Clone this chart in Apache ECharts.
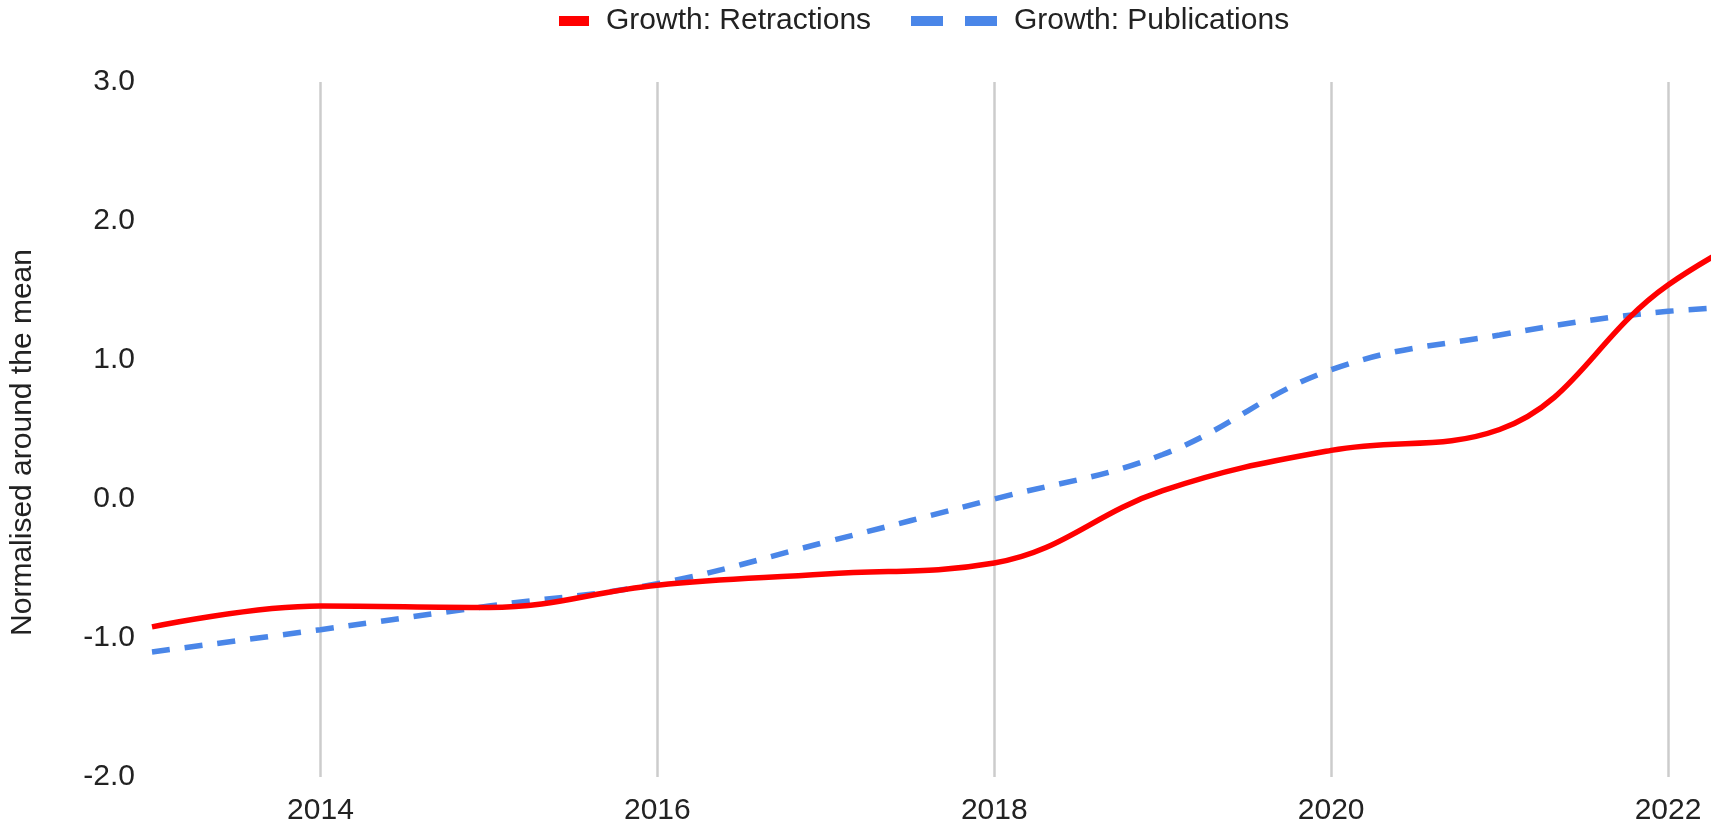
<!DOCTYPE html>
<html>
<head>
<meta charset="utf-8">
<script src="https://cdn.jsdelivr.net/npm/echarts@6/dist/echarts.min.js"></script>
<style>
  html, body { margin: 0; background: #fff; }
  #chart { width: 1711px; height: 826px; }
</style>
</head>
<body>
<div id="chart"></div>
<script>
// Growth of retractions vs publications, normalised around the mean.
// Values; the 2023 point only shapes the curve past the right edge.
const YEARS = [2013, 2014, 2015, 2016, 2017, 2018, 2019, 2020, 2021, 2022, 2023]
const RETRACTIONS = [-0.92, -0.77, -0.78, -0.62, -0.54, -0.46, 0.06, 0.35, 0.50, 1.54, 2.20]
const PUBLICATIONS = [-1.10, -0.94, -0.77, -0.61, -0.31, 0.0, 0.32, 0.93, 1.18, 1.35, 1.40]
const X_MIN = 2013, X_MAX = 2022.255
const Y_MIN = -2, Y_MAX = 3
const NAMES = ['Growth: Retractions', 'Growth: Publications']
const RED = '#ff0000', BLUE = '#4a86e8'
const FONT = "'Liberation Sans', Arial, sans-serif"
const TXT = '#222222'
const FS = 30

const pairs = vals => YEARS.map((y, i) => [y, vals[i]])
const chart = echarts.init(document.getElementById('chart'))

chart.setOption({
  animation: false,
  textStyle: { fontFamily: FONT },
  legend: [
    { left: 554, top: 1, itemWidth: 30, itemHeight: 10, selectedMode: false,
      data: [{ name: NAMES[0], icon: 'rect' }],
      textStyle: { fontSize: FS, color: TXT, fontFamily: FONT, padding: [0, 0, 0, 12] } },
    { left: 906, top: 1, itemWidth: 86, itemHeight: 10, selectedMode: false,
      data: [{ name: NAMES[1], icon: 'path://M0,0h32v10h-32z M54,0h32v10h-32z' }],
      textStyle: { fontSize: FS, color: TXT, fontFamily: FONT, padding: [0, 0, 0, 12] } }
  ],
  grid: { left: 152, right: 0, top: 82, bottom: 49, containLabel: false },
  xAxis: {
    type: 'value', min: X_MIN, max: X_MAX,
    axisLine: { show: false }, axisTick: { show: false },
    axisLabel: { fontSize: FS, color: TXT, margin: 19, showMinLabel: false, showMaxLabel: false,
      formatter: v => String(v) },
    splitLine: { show: true, showMinLine: false, showMaxLine: false, lineStyle: { color: '#cccccc', width: 2.5 } }
  },
  yAxis: {
    type: 'value', min: Y_MIN, max: Y_MAX, interval: 1,
    name: 'Normalised around the mean', nameLocation: 'middle', nameGap: 114,
    nameTextStyle: { fontSize: FS, color: TXT, padding: [0, 26, 0, 0] },
    axisLine: { show: false }, axisTick: { show: false }, splitLine: { show: false },
    axisLabel: { fontSize: FS, color: TXT, margin: 17, formatter: v => v.toFixed(1) }
  },
  series: [
    { name: NAMES[0], type: 'line', data: pairs(RETRACTIONS), smooth: 0.4, showSymbol: false,
      itemStyle: { color: RED }, lineStyle: { color: RED, width: 5.5 }, z: 3 },
    { name: NAMES[1], type: 'line', data: pairs(PUBLICATIONS), smooth: 0.4, showSymbol: false,
      itemStyle: { color: BLUE }, lineStyle: { color: BLUE, width: 5.5, type: [18, 15] }, z: 2 }
  ]
})
</script>
</body>
</html>
